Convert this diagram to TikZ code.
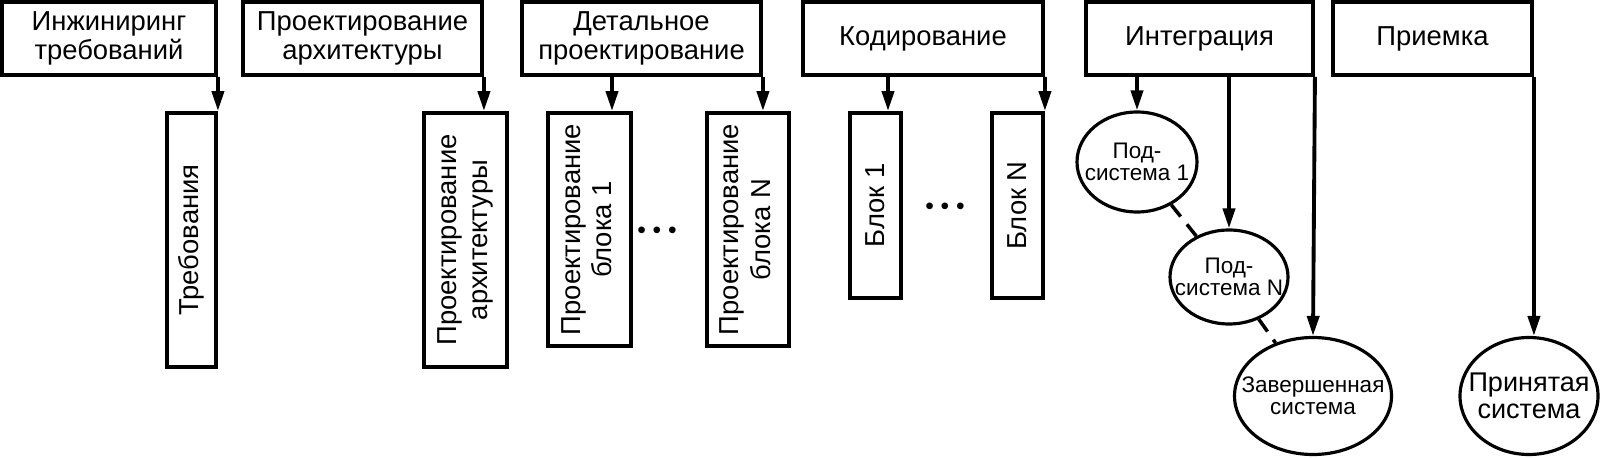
\documentclass[tikz,border=0pt]{standalone}
\usepackage{fontspec}
\setmainfont{Liberation Sans}
\usepackage{tikz}
\usetikzlibrary{positioning,shapes.geometric,arrows.meta}

\begin{document}
\begin{tikzpicture}[
  phase/.style={draw, line width=2.2pt, minimum height=1.46cm, inner sep=0pt, align=center, font=\fontsize{15.6}{16.8}\selectfont},
  work/.style={draw, line width=2.2pt, inner sep=0pt, font=\fontsize{15.6}{18}\selectfont},
  result/.style={draw, ellipse, line width=1.8pt, inner sep=0pt},
  rtext/.style={align=center, inner sep=0pt, font=\fontsize{12.8}{12.8}\selectfont},
  arr/.style={-{Triangle[length=0.4cm,width=0.24cm]}, line width=2.2pt},
  dashline/.style={line width=2pt, dash pattern=on 0.3cm off 0.2cm},
  dots/.style={anchor=base, inner sep=0pt, font=\fontsize{14}{14}\selectfont}
]

\useasboundingbox (0,0) rectangle (32.04,-9.16);

% Phases along the top
\node[phase, minimum width=4.28cm] (req) at (2.18,-0.77) {Инжиниринг\\требований};
\node[phase, minimum width=4.78cm] (arch) at (7.25,-0.77) {Проектирование\\архитектуры};
\node[phase, minimum width=4.78cm] (det) at (12.83,-0.77) {Детальное\\проектирование};
\node[phase, minimum width=4.80cm] (code) at (18.46,-0.77) {Кодирование};
\node[phase, minimum width=4.54cm] (integ) at (23.99,-0.77) {Интеграция};
\node[phase, minimum width=3.98cm] (accept) at (28.65,-0.77) {Приемка};

% Work products
\node[work, minimum width=0.98cm, minimum height=5.08cm] (treb) at (3.83,-4.80) {\rotatebox{90}{Требования}};
\node[work, minimum width=1.66cm, minimum height=5.08cm] (parch) at (9.31,-4.80)
  {\rotatebox{90}{\begin{tabular}{@{}c@{}}Проектирование\\архитектуры\end{tabular}}};
\node[work, minimum width=1.66cm, minimum height=4.66cm] (pb1) at (11.79,-4.59)
  {\rotatebox{90}{\begin{tabular}{@{}c@{}}Проектирование\\блока 1\end{tabular}}};
\node[work, minimum width=1.64cm, minimum height=4.66cm] (pbN) at (14.96,-4.59)
  {\rotatebox{90}{\begin{tabular}{@{}c@{}}Проектирование\\блока N\end{tabular}}};
\node[work, minimum width=1.02cm, minimum height=3.70cm] (b1) at (17.51,-4.11) {\rotatebox{90}{Блок 1}};
\node[work, minimum width=1.02cm, minimum height=3.70cm] (bN) at (20.35,-4.11) {\rotatebox{90}{Блок N}};

\node[dots] (dots1) at (13.14,-4.78) {• • •};
\node[dots] (dots2) at (18.90,-4.30) {• • •};

% Integration and acceptance
\node[result, minimum width=2.40cm, minimum height=2.00cm] (sub1) at (22.74,-3.24) {};
\node[rtext] (sub1t) at (sub1) {Под-\\система 1};
\node[result, minimum width=2.36cm, minimum height=1.88cm] (subN) at (24.58,-5.54) {};
\node[rtext] (subNt) at (subN) {Под-\\система N};
\node[result, minimum width=3.14cm, minimum height=2.34cm] (final) at (26.26,-7.92) {};
\node[rtext] (finalt) at (final) {Завершенная\\система};
\node[result, minimum width=2.76cm, minimum height=2.34cm] (accepted) at (30.58,-7.92) {};
\node[rtext, font=\fontsize{15.4}{15.6}\selectfont] (acceptedt) at (accepted) {Принятая\\система};

% Arrows
\draw[arr] (req.south east) -- (treb.north east);
\draw[arr] (arch.south east) -- (arch.south east |- parch.north);
\draw[arr] ([xshift=-0.59cm]det.south) -- ([xshift=-0.59cm]det.south |- pb1.north);
\draw[arr] (det.south east) -- (det.south east |- pbN.north);
\draw[arr] ([xshift=-0.70cm]code.south) -- ([xshift=-0.70cm]code.south |- b1.north);
\draw[arr] (code.south east) -- (bN.north east);
\draw[arr] (sub1.north |- integ.south) -- (sub1.north);
\draw[arr] (subN.north |- integ.south) -- (subN.north);
\draw[arr] (integ.south east) -- (final.north);
\draw[arr] (accept.south east) -- (accept.south east |- accepted.north);

\draw[dashline] (sub1) -- (subN);
\draw[dashline] (subN) -- (final);

\end{tikzpicture}
\end{document}
